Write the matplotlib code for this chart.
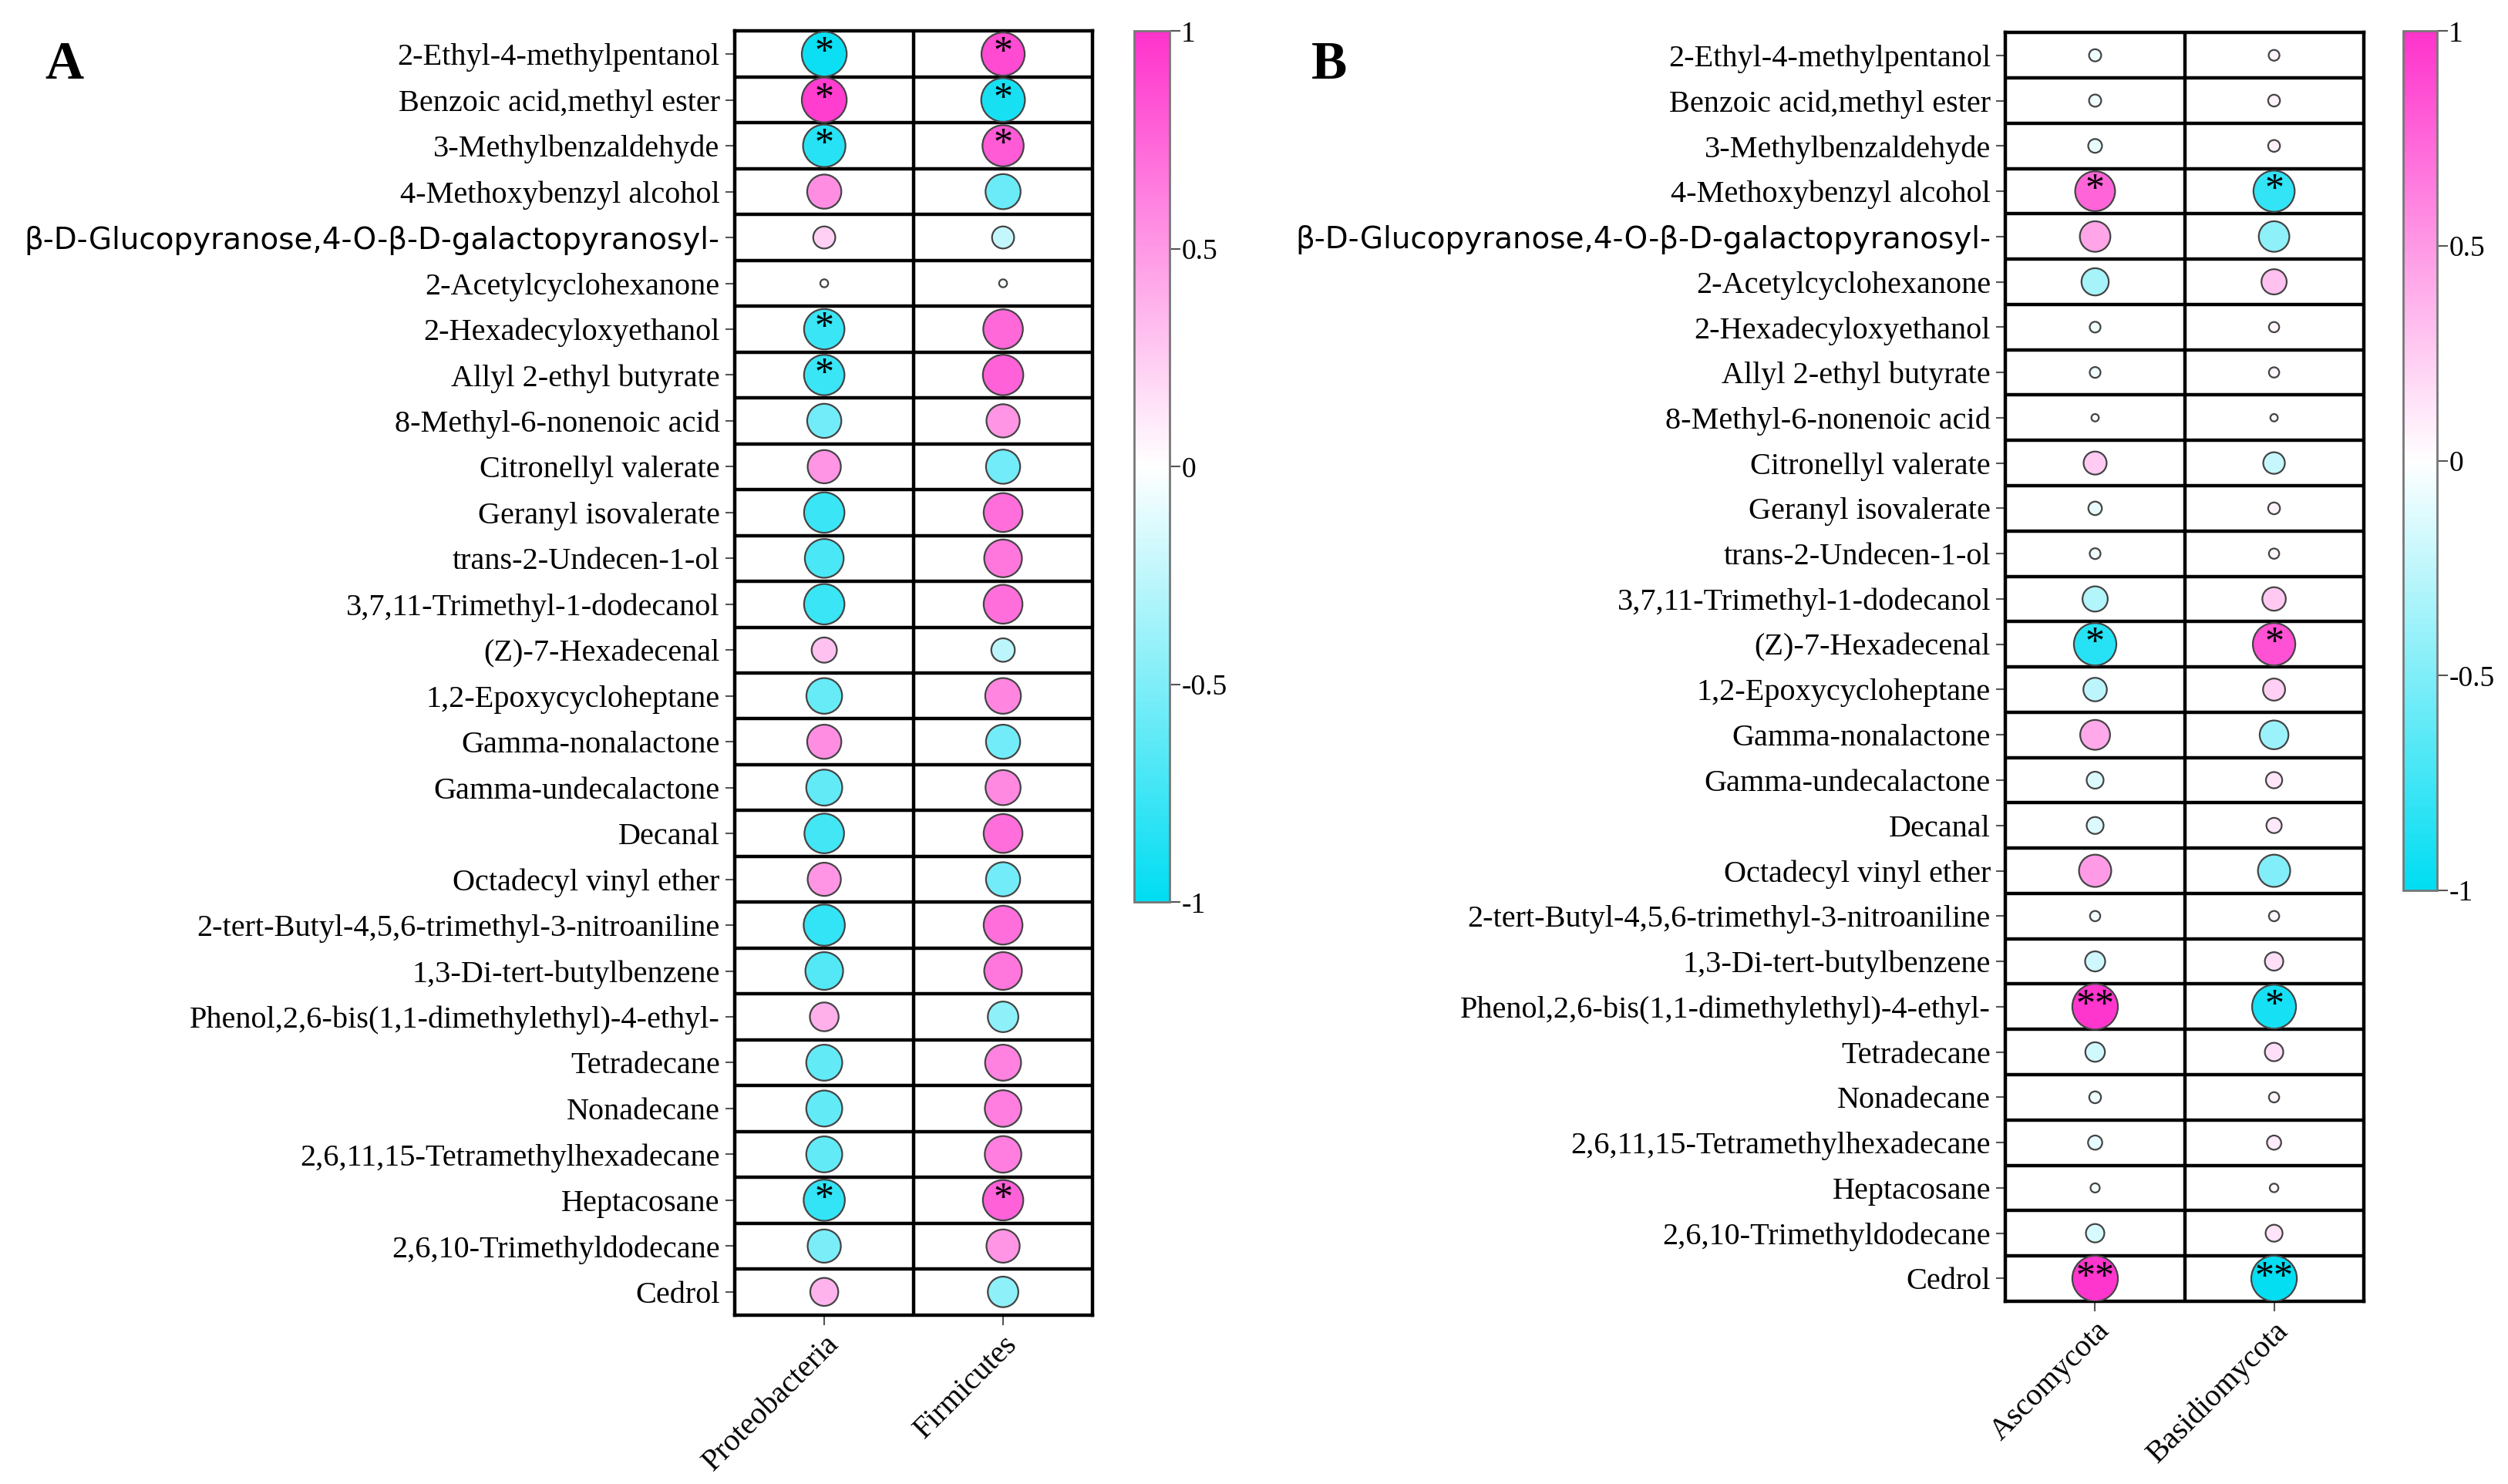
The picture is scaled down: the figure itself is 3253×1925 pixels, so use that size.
import numpy as np
import matplotlib
matplotlib.use("Agg")
import matplotlib.pyplot as plt
from matplotlib.colors import LinearSegmentedColormap, Normalize
from matplotlib.cm import ScalarMappable

plt.rcParams['font.family'] = ['Liberation Serif', 'DejaVu Serif']

# compounds (same order in both panels, top to bottom)
compounds = [
    "2-Ethyl-4-methylpentanol", "Benzoic acid,methyl ester", "3-Methylbenzaldehyde",
    "4-Methoxybenzyl alcohol", "β-D-Glucopyranose,4-O-β-D-galactopyranosyl-",
    "2-Acetylcyclohexanone", "2-Hexadecyloxyethanol", "Allyl 2-ethyl butyrate",
    "8-Methyl-6-nonenoic acid", "Citronellyl valerate", "Geranyl isovalerate",
    "trans-2-Undecen-1-ol", "3,7,11-Trimethyl-1-dodecanol", "(Z)-7-Hexadecenal",
    "1,2-Epoxycycloheptane", "Gamma-nonalactone", "Gamma-undecalactone", "Decanal",
    "Octadecyl vinyl ether", "2-tert-Butyl-4,5,6-trimethyl-3-nitroaniline",
    "1,3-Di-tert-butylbenzene", "Phenol,2,6-bis(1,1-dimethylethyl)-4-ethyl-",
    "Tetradecane", "Nonadecane", "2,6,11,15-Tetramethylhexadecane", "Heptacosane",
    "2,6,10-Trimethyldodecane", "Cedrol",
]

# panel A: bacteria
bact_names = ["Proteobacteria", "Firmicutes"]
proteobacteria = [-0.95, 0.95, -0.85, 0.55, 0.23, 0.03, -0.77, -0.77, -0.55, 0.52,
                  -0.77, -0.71, -0.77, 0.30, -0.60, 0.55, -0.61, -0.74, 0.52, -0.80,
                  -0.67, 0.39, -0.61, -0.61, -0.61, -0.80, -0.52, 0.37]
firmicutes = [0.88, -0.90, 0.80, -0.58, -0.23, -0.03, 0.74, 0.77, 0.52, -0.55,
              0.71, 0.67, 0.71, -0.26, 0.60, -0.55, 0.58, 0.71, -0.55, 0.71,
              0.67, -0.44, 0.61, 0.63, 0.63, 0.77, 0.52, -0.44]
proteo_sig = ["*", "*", "*", "", "", "", "*", "*", "", "", "", "", "", "", "",
              "", "", "", "", "", "", "", "", "", "", "*", "", ""]
firmi_sig = ["*", "*", "*", "", "", "", "", "", "", "", "", "", "", "", "",
             "", "", "", "", "", "", "", "", "", "", "*", "", ""]

# panel B: fungi
fungi_names = ["Ascomycota", "Basidiomycota"]
ascomycota = [-0.07, -0.07, -0.09, 0.75, 0.44, -0.35, -0.055, -0.055, -0.026, 0.25,
              -0.086, -0.055, -0.30, -0.85, -0.26, 0.42, -0.135, -0.135, 0.49, -0.05,
              -0.19, 0.98, -0.18, -0.066, -0.095, -0.04, -0.16, 0.98]
basidiomycota = [0.055, 0.066, 0.066, -0.80, -0.44, 0.30, 0.05, 0.05, 0.026, -0.22,
                 0.066, 0.05, 0.26, 0.85, 0.23, -0.39, 0.125, 0.11, -0.49, 0.05,
                 0.16, -0.91, 0.16, 0.05, 0.095, 0.035, 0.135, -0.98]
asco_sig = ["", "", "", "*", "", "", "", "", "", "", "", "", "", "*", "",
            "", "", "", "", "", "", "**", "", "", "", "", "", "**"]
basidio_sig = ["", "", "", "*", "", "", "", "", "", "", "", "", "", "*", "",
               "", "", "", "", "", "", "*", "", "", "", "", "", "**"]

cmap = LinearSegmentedColormap.from_list("cw", ["#00DDF2", "#FFFFFF", "#FF33CC"])
norm = Normalize(-1, 1)

W, H = 3253, 1925
fig = plt.figure(figsize=(W / 100, H / 100), dpi=100)


def draw_panel(rect, cbar_rect, cols, names, sigs, letter, letter_xy):
    ax = fig.add_axes(rect)
    n = len(compounds)
    y = np.arange(n)
    for j, vals in enumerate(cols):
        v = np.array(vals)
        ax.scatter(np.full(n, j), y, s=1850 * np.abs(v), c=v, cmap=cmap, norm=norm,
                   edgecolors="#444444", linewidths=1.6, zorder=3)
        for i, s in enumerate(sigs[j]):
            if s:
                ax.text(j, i - 0.02, s, ha="center", va="center", fontsize=36,
                        color="black", zorder=4)
    ax.set_xlim(-0.5, len(cols) - 0.5)
    ax.set_ylim(n - 0.5, -0.5)
    for k in range(n - 1):
        ax.axhline(k + 0.5, color="black", lw=3.2, zorder=2)
    for k in range(len(cols) - 1):
        ax.axvline(k + 0.5, color="black", lw=3.2, zorder=2)
    for sp in ax.spines.values():
        sp.set_linewidth(3.2)
    ax.set_yticks(y)
    ax.set_yticklabels(compounds, fontsize=29)
    for lab in ax.get_yticklabels():
        if lab.get_text().startswith("β"):
            lab.set_fontfamily(["DejaVu Sans"])
            lab.set_fontsize(28)
    ax.set_xticks(range(len(cols)))
    ax.set_xticklabels(names, fontsize=29, rotation=45, ha="right",
                       rotation_mode="anchor")
    ax.tick_params(axis="both", length=9, width=1.5, color="#555555", pad=5)

    cax = fig.add_axes(cbar_rect)
    cb = fig.colorbar(ScalarMappable(norm=norm, cmap=cmap), cax=cax)
    cb.set_ticks([-1, -0.5, 0, 0.5, 1])
    cb.set_ticklabels(["-1", "-0.5", "0", "0.5", "1"])
    cb.ax.tick_params(labelsize=27, length=10, width=1.5, color="#555555", pad=1)
    cb.outline.set_edgecolor("#777777")
    cb.outline.set_linewidth(2)

    fig.text(letter_xy[0], letter_xy[1], letter, fontsize=50, fontweight="bold",
             ha="left", va="center")
    return ax


draw_panel([0.293, 0.114, 0.1426, 0.865], [0.4522, 0.392, 0.0141, 0.587],
           [proteobacteria, firmicutes], bact_names, [proteo_sig, firmi_sig],
           "A", (0.018, 0.956))
draw_panel([0.7997, 0.1232, 0.1427, 0.8548], [0.9582, 0.40, 0.0135, 0.579],
           [ascomycota, basidiomycota], fungi_names, [asco_sig, basidio_sig],
           "B", (0.523, 0.956))

fig.savefig("out.png", dpi=100, facecolor="white")
